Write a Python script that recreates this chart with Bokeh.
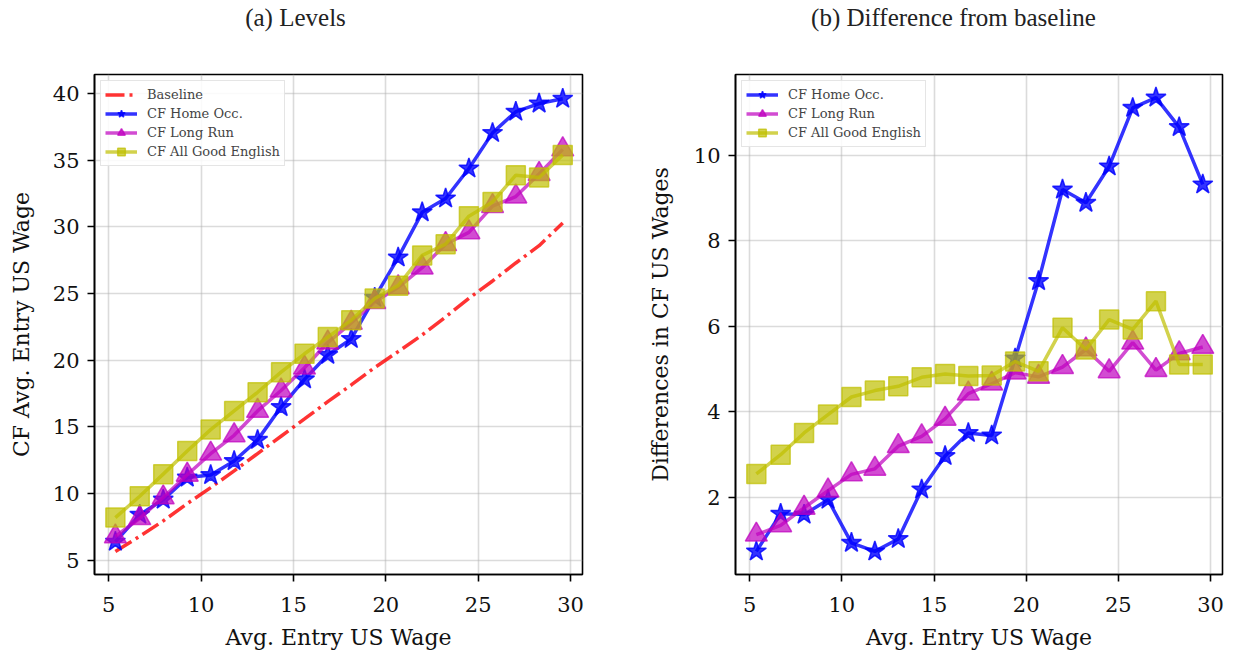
from bokeh.plotting import figure
from bokeh.layouts import row, column
from bokeh.models import FixedTicker, Legend, LegendItem, Range1d
from bokeh.core.properties import value
from bokeh.embed import file_html
from bokeh.resources import INLINE

# ---- data ----
wage = [5.36, 6.68, 7.95, 9.25, 10.52, 11.79, 13.06, 14.33, 15.60, 16.86,
        18.13, 19.40, 20.67, 21.97, 23.24, 24.50, 25.78, 27.04, 28.30, 29.58]

baseline = [5.65, 6.80, 7.95, 9.25, 10.45, 11.70, 13.00, 14.30, 15.60, 16.90,
            18.15, 19.45, 20.65, 21.90, 23.25, 24.65, 25.95, 27.30, 28.60, 30.30]

home_lvl = [6.39, 8.42, 9.55, 11.20, 11.39, 12.44, 14.03, 16.49, 18.57, 20.41,
            21.60, 24.70, 27.71, 31.10, 32.14, 34.39, 37.06, 38.65, 39.26, 39.62]
longrun_lvl = [6.78, 8.15, 9.71, 11.41, 12.99, 14.37, 16.20, 17.73, 19.44, 21.33,
               22.81, 24.37, 25.47, 26.95, 28.71, 29.60, 31.57, 32.28, 33.97, 35.82]
english_lvl = [8.20, 9.80, 11.46, 13.19, 14.80, 16.20, 17.60, 19.11, 20.49, 21.74,
               23.00, 24.63, 25.60, 27.87, 28.71, 30.81, 31.88, 33.89, 33.71, 35.41]

home_diff = [0.74, 1.62, 1.60, 1.95, 0.94, 0.74, 1.03, 2.19, 2.97, 3.51,
             3.45, 5.25, 7.06, 9.20, 8.89, 9.74, 11.11, 11.35, 10.66, 9.32]
longrun_diff = [1.13, 1.35, 1.76, 2.16, 2.54, 2.67, 3.20, 3.43, 3.84, 4.43,
                4.66, 4.92, 4.82, 5.05, 5.46, 4.95, 5.62, 4.98, 5.37, 5.52]
english_diff = [2.55, 3.00, 3.51, 3.94, 4.35, 4.50, 4.60, 4.81, 4.89, 4.84,
                4.85, 5.18, 4.95, 5.97, 5.46, 6.16, 5.93, 6.59, 5.11, 5.11]

x_ticks = [5, 10, 15, 20, 25, 30]
lvl_ticks = [5, 10, 15, 20, 25, 30, 35, 40]
diff_ticks = [2, 4, 6, 8, 10]

titles = ["(a) Levels", "(b) Difference from baseline"]
x_label = "Avg. Entry US Wage"
y_labels = ["CF Avg. Entry US Wage", "Differences in CF US Wages"]
names = ["Baseline", "CF Home Occ.", "CF Long Run", "CF All Good English"]

SERIF = "DejaVu Serif"
RED, BLUE, MAG, YEL = "#ff0000", "#0000ff", "#bf00bf", "#bfbf00"
TITLE_H = 40


def title_fig(text, w, cx):
    t = figure(width=w, height=TITLE_H, x_range=Range1d(0, w), y_range=Range1d(0, TITLE_H),
               x_axis_location=None, y_axis_location=None, min_border=0,
               output_backend="svg", toolbar_location=None,
               background_fill_color="white", border_fill_color="white")
    t.outline_line_color = None
    t.grid.visible = False
    t.text(x=[cx], y=[TITLE_H - 17], text=[text], text_align="center",
           text_baseline="middle", text_font=value("Liberation Serif"),
           text_font_size="25px", text_color="#222222")
    return t


def make_fig(ylabel, yr, yticks, bl, br, fw, ylab_standoff):
    p = figure(frame_width=fw, frame_height=500,
               x_range=Range1d(4.23, 30.65), y_range=Range1d(*yr),
               output_backend="svg", toolbar_location=None,
               min_border_left=bl, min_border_right=br,
               min_border_top=74 - TITLE_H, min_border_bottom=75,
               background_fill_color="white", border_fill_color="white")
    p.outline_line_color = "black"
    p.outline_line_width = 1.6
    p.outline_line_alpha = 1.0
    for ax in (p.xaxis[0], p.yaxis[0]):
        ax.axis_line_width = 1.6
        ax.axis_line_color = "black"
        ax.major_tick_line_width = 1.6
        ax.major_tick_out = 7
        ax.major_tick_in = 0
        ax.minor_tick_line_color = None
        ax.major_label_text_font = SERIF
        ax.major_label_text_font_size = "21px"
        ax.major_label_text_color = "#111111"
        ax.axis_label_text_font = SERIF
        ax.axis_label_text_font_size = "22px"
        ax.axis_label_text_font_style = "normal"
        ax.axis_label_text_color = "#111111"
    p.xaxis[0].major_label_standoff = 15
    p.yaxis[0].major_label_standoff = 8
    p.xaxis[0].ticker = FixedTicker(ticks=x_ticks)
    p.yaxis[0].ticker = FixedTicker(ticks=yticks)
    p.xaxis[0].axis_label = x_label
    p.yaxis[0].axis_label = ylabel
    p.xaxis[0].axis_label_standoff = 10
    p.yaxis[0].axis_label_standoff = ylab_standoff
    p.grid.grid_line_color = "#b0b0b0"
    p.grid.grid_line_alpha = 0.45
    p.grid.grid_line_width = 1.6
    return p


def series(p, y, color, marker, size, alpha):
    ln = p.line(wage, y, line_color=color, line_width=3.5, line_alpha=alpha)
    mk = p.scatter(wage, y, marker=marker, size=size, fill_color=color,
                   line_color=color, fill_alpha=alpha, line_alpha=alpha, line_width=1.5)
    return [ln, mk]


def legend(p, items):
    lg = Legend(items=items, location="top_left",
                label_text_font=SERIF, label_text_font_size="13px",
                glyph_width=32, glyph_height=19, spacing=0, padding=4, margin=6,
                label_standoff=10,
                border_line_color="#cccccc", border_line_width=1.5,
                background_fill_color="white", background_fill_alpha=0.85)
    p.add_layout(lg)


W1, W2 = 94 + 488 + 43, 110 + 487 + 4

# ---- (a) Levels ----
p1 = make_fig(y_labels[0], (3.93, 41.44), lvl_ticks, 94, 43, 488, 16)
r_base = p1.line(wage, baseline, line_color=RED, line_width=3.5, line_alpha=0.8,
                 line_dash="19 5 3 5")
r_h = series(p1, home_lvl, BLUE, "star", 21, 0.8)
r_l = series(p1, longrun_lvl, MAG, "triangle", 22, 0.7)
r_e = series(p1, english_lvl, YEL, "square", 19, 0.7)
legend(p1, [LegendItem(label=names[0], renderers=[r_base]),
            LegendItem(label=names[1], renderers=r_h),
            LegendItem(label=names[2], renderers=r_l),
            LegendItem(label=names[3], renderers=r_e)])

# ---- (b) Difference from baseline ----
p2 = make_fig(y_labels[1], (0.2, 11.89), diff_ticks, 110, 4, 487, 18)
d_h = series(p2, home_diff, BLUE, "star", 21, 0.8)
d_l = series(p2, longrun_diff, MAG, "triangle", 22, 0.7)
d_e = series(p2, english_diff, YEL, "square", 19, 0.7)
legend(p2, [LegendItem(label=names[1], renderers=d_h),
            LegendItem(label=names[2], renderers=d_l),
            LegendItem(label=names[3], renderers=d_e)])

t1 = title_fig(titles[0], W1, 295)
t2 = title_fig(titles[1], W2, 328)

layout = column(row(t1, t2), row(p1, p2))
open("out.html", "w").write(file_html(layout, INLINE))
